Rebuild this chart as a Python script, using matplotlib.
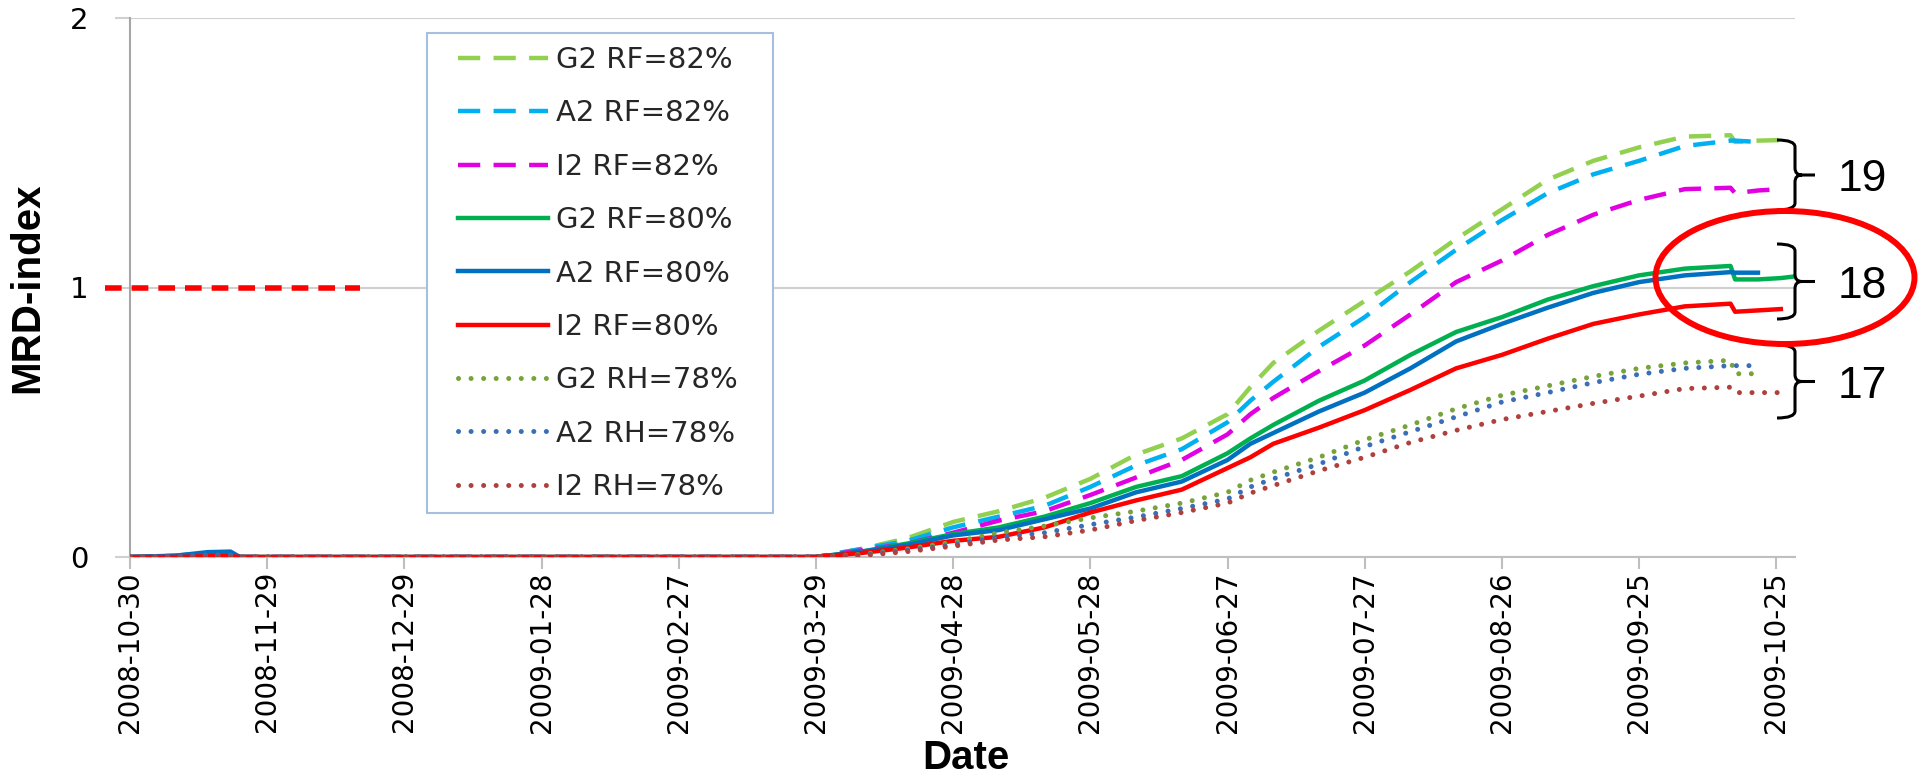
import numpy as np
import pandas as pd
import matplotlib
matplotlib.use('Agg')
import matplotlib.pyplot as plt
from matplotlib.patches import Ellipse, Rectangle, PathPatch
from matplotlib.path import Path

plt.rcParams['font.family'] = 'DejaVu Sans'

nan = np.nan

########## Data: MRD-index per scenario, days after 2008-10-30
start = pd.Timestamp('2008-10-30')
day_offsets = [0, 10, 17, 22, 24, 30, 150, 160, 170, 180, 190, 200, 210, 220, 230, 240,
               245, 250, 260, 270, 280, 290, 300, 310, 320, 330, 340, 350, 351, 356, 361, 363.5]

g2_rf82 = [0, 0, 0.005, 0.005, 0, 0, 0, 0.03, 0.07, 0.13, 0.17, 0.22, 0.29, 0.38, 0.44, 0.53,
           0.63, 0.72, 0.84, 0.95, 1.06, 1.18, 1.29, 1.40, 1.47, 1.52, 1.56, 1.565, 1.54, 1.545, 1.547, nan]
a2_rf82 = [0, 0.005, 0.015, 0.015, 0, 0, 0, 0.03, 0.06, 0.11, 0.15, 0.19, 0.26, 0.34, 0.40, 0.50,
           0.58, 0.65, 0.78, 0.89, 1.02, 1.14, 1.25, 1.35, 1.42, 1.47, 1.525, 1.545, 1.545, 1.54, nan, nan]
i2_rf82 = [0, 0, 0.003, 0.003, 0, 0, 0, 0.025, 0.05, 0.09, 0.135, 0.17, 0.23, 0.295, 0.36, 0.455,
           0.53, 0.59, 0.69, 0.785, 0.90, 1.02, 1.10, 1.195, 1.27, 1.325, 1.365, 1.37, 1.35, 1.36, 1.365, nan]
g2_rf80 = [0, 0.003, 0.008, 0.008, 0, 0, 0, 0.02, 0.05, 0.085, 0.11, 0.15, 0.20, 0.26, 0.30, 0.385,
           0.44, 0.49, 0.58, 0.655, 0.75, 0.835, 0.89, 0.955, 1.005, 1.045, 1.07, 1.08, 1.03, 1.03, 1.035, 1.04]
a2_rf80 = [0, 0.005, 0.018, 0.02, 0, 0, 0, 0.02, 0.045, 0.08, 0.10, 0.14, 0.18, 0.24, 0.28, 0.36,
           0.42, 0.46, 0.54, 0.61, 0.70, 0.80, 0.865, 0.925, 0.98, 1.02, 1.045, 1.057, 1.055, 1.055, nan, nan]
i2_rf80 = [0, 0, 0.003, 0.003, 0, 0, 0, 0.015, 0.035, 0.06, 0.075, 0.11, 0.165, 0.21, 0.25, 0.33,
           0.37, 0.42, 0.48, 0.545, 0.62, 0.70, 0.75, 0.81, 0.865, 0.90, 0.93, 0.94, 0.91, 0.915, 0.92, nan]
g2_rh78 = [0, 0, 0.003, 0.003, 0, 0, 0, 0.01, 0.03, 0.055, 0.09, 0.115, 0.145, 0.17, 0.20, 0.24,
           0.285, 0.315, 0.37, 0.435, 0.49, 0.55, 0.60, 0.635, 0.67, 0.70, 0.72, 0.73, 0.68, 0.68, nan, nan]
a2_rh78 = [0, 0.002, 0.008, 0.008, 0, 0, 0, 0.008, 0.025, 0.045, 0.074, 0.09, 0.12, 0.148, 0.18, 0.215,
           0.26, 0.29, 0.345, 0.41, 0.465, 0.52, 0.575, 0.61, 0.647, 0.678, 0.70, 0.71, 0.71, 0.71, nan, nan]
i2_rh78 = [0, 0, 0, 0, 0, 0, 0, 0.005, 0.02, 0.04, 0.063, 0.075, 0.10, 0.135, 0.165, 0.20,
           0.237, 0.265, 0.32, 0.37, 0.425, 0.47, 0.51, 0.54, 0.57, 0.597, 0.625, 0.63, 0.61, 0.61, 0.61, nan]

labels = ['G2 RF=82%', 'A2 RF=82%', 'I2 RF=82%',
          'G2 RF=80%', 'A2 RF=80%', 'I2 RF=80%',
          'G2 RH=78%', 'A2 RH=78%', 'I2 RH=78%']
series = [g2_rf82, a2_rf82, i2_rf82, g2_rf80, a2_rf80, i2_rf80, g2_rh78, a2_rh78, i2_rh78]
colors = ['#92D050', '#00B0F0', '#E100E1',
          '#00B050', '#0070C0', '#FF0000',
          '#77A33A', '#3A6FB8', '#B0403D']

dashed = (0, (5.0, 3.0))
dotted = (0, (0.01, 2.5))
styles = [dashed] * 3 + ['-'] * 3 + [dotted] * 3
widths = [3.2] * 3 + [3.2] * 3 + [3.6] * 3

threshold = 1.0
tick_days = 30
n_ticks = 13

dates = start + pd.to_timedelta(day_offsets, unit='D')

W_PX, H_PX = 1926, 778
grid_gray = '#D0D0D0'

fig = plt.figure(figsize=(W_PX / 100, H_PX / 100), dpi=100)
ax = fig.add_axes([130 / W_PX, 1 - 557 / H_PX, (1795 - 130) / W_PX, (557 - 18) / H_PX])

handles = []
for vals, lab, col, ls, lw in zip(series, labels, colors, styles, widths):
    line, = ax.plot(dates, vals, color=col, lw=lw, linestyle=ls, label=lab,
                    dash_capstyle='round' if ls is dotted else 'butt', zorder=3)
    handles.append(line)

# threshold marker at MRD-index = 1
ax.plot([start - pd.Timedelta(days=5.5), start + pd.Timedelta(days=50.3)], [threshold, threshold],
        color='#FF0000', lw=4, linestyle=(0, (3.0, 1.8)), clip_on=False, zorder=3)

ax.set_xlim(start, start + pd.Timedelta(days=364.1))
ax.set_ylim(0, 2)
ax.set_yticks([0, 1, 2])
ticks = pd.date_range(start, periods=n_ticks, freq=f'{tick_days}D')
ax.set_xticks(ticks)
ax.set_xticklabels([t.strftime('%Y-%m-%d') for t in ticks], rotation=90)

ax.grid(axis='y', color=grid_gray, lw=1.5)
ax.set_axisbelow(True)
for s in ['top', 'right']:
    ax.spines[s].set_visible(False)
ax.spines['left'].set_color('#A6A6A6')
ax.spines['left'].set_linewidth(1.5)
ax.spines['bottom'].set_color('#BFBFBF')
ax.spines['bottom'].set_linewidth(1.5)
ax.tick_params(axis='y', length=10.8, width=1.5, color=grid_gray, pad=19, labelsize=21)
ax.tick_params(axis='x', length=8.6, width=1.5, color='#BFBFBF', pad=1.5, labelsize=20)

fig.text(27 / W_PX, 1 - 288 / H_PX, 'MRD-index', rotation=90, ha='center', va='center',
         fontsize=29, fontweight='bold', family='Liberation Sans')
fig.text(966 / W_PX, 1 - 769 / H_PX, 'Date', ha='center', va='baseline',
         fontsize=29, fontweight='bold', family='Liberation Sans')

# legend with its own white box
box = Rectangle((427 / W_PX, 1 - 513 / H_PX), 346 / W_PX, 480 / H_PX, transform=fig.transFigure,
                fc='white', ec='#A7BFDE', lw=1.5, zorder=4)
ax.add_patch(box)
leg = ax.legend(handles, labels, loc='upper left', bbox_to_anchor=(458 / W_PX, 1 - 46 / H_PX),
                bbox_transform=fig.transFigure, frameon=False, borderpad=0, borderaxespad=0,
                handlelength=3.1, handletextpad=0.25, labelspacing=0.87,
                prop={'family': 'DejaVu Sans', 'size': 21})
leg.set_zorder(5)
for t in leg.get_texts():
    t.set_color('#262626')

# annotation layer in pixel units: braces, numbers, ring
ov = fig.add_axes([0, 0, 1, 1])
ov.set_xlim(0, W_PX)
ov.set_ylim(H_PX, 0)
ov.axis('off')


def brace(a, top, bottom, x_hook=1777, x_stem=1795, x_tip=1815, r=7):
    mid = (top + bottom) / 2
    verts = [(x_hook, top), (x_stem, top), (x_stem, top + r),
             (x_stem, mid - r), (x_stem, mid), (x_stem + r, mid), (x_tip, mid),
             (x_stem + r, mid), (x_stem, mid), (x_stem, mid + r),
             (x_stem, bottom - r), (x_stem, bottom), (x_hook, bottom)]
    codes = [Path.MOVETO, Path.CURVE3, Path.CURVE3,
             Path.LINETO, Path.CURVE3, Path.CURVE3, Path.LINETO,
             Path.MOVETO, Path.CURVE3, Path.CURVE3,
             Path.LINETO, Path.CURVE3, Path.CURVE3]
    a.add_patch(PathPatch(Path(verts, codes), fc='none', ec='black', lw=2.2, capstyle='butt'))
    return mid


group_names = ['19', '18', '17']
group_spans = [(140, 210), (244, 319), (345, 418)]
for name, (top, bottom) in zip(group_names, group_spans):
    mid = brace(ov, top, bottom)
    ov.text(1862, mid + 16, name, ha='center', va='baseline', fontsize=32,
            family='Liberation Sans', color='black')

ov.add_patch(Ellipse((1785, 277.5), 259, 133, fill=False, ec='#FF0000', lw=4.3))

fig.savefig('out.png', dpi=100)
